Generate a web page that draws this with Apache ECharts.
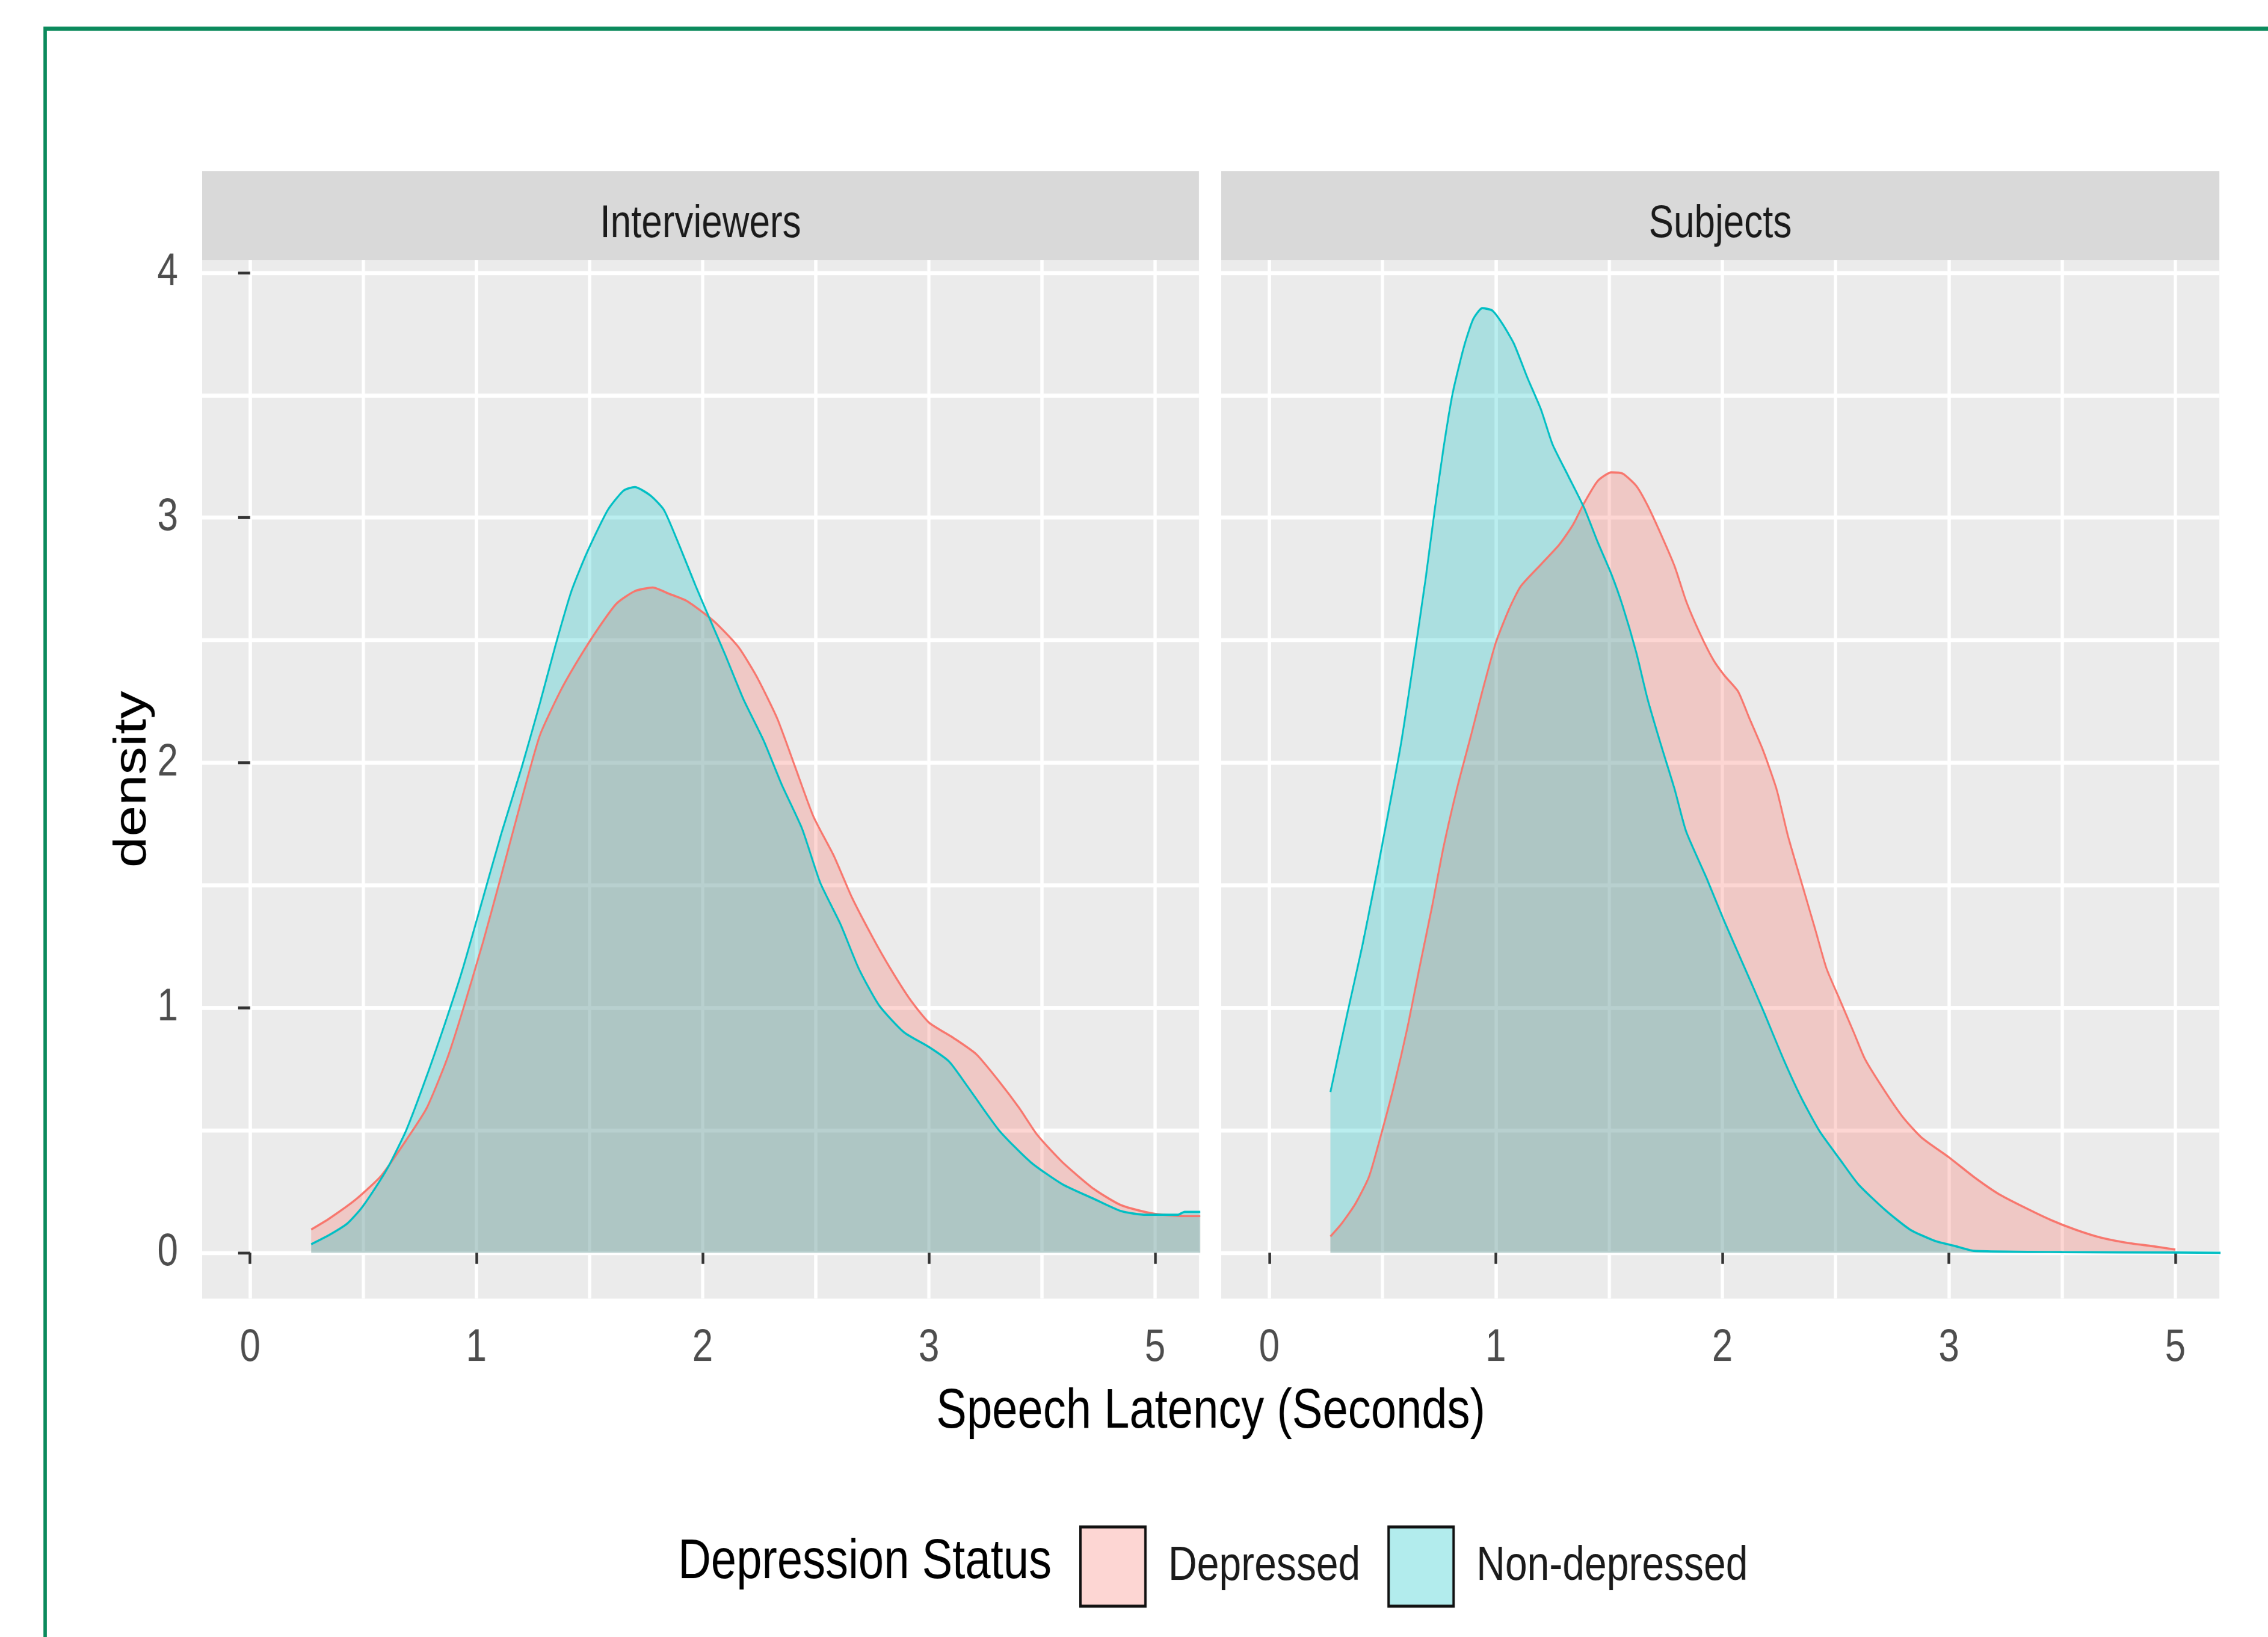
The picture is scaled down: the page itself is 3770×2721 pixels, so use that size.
<!DOCTYPE html>
<html>
<head>
<meta charset="utf-8">
<script src="https://cdn.jsdelivr.net/npm/echarts@6/dist/echarts.min.js"></script>
<style>
html,body{margin:0;padding:0;background:#fff;width:3770px;height:2721px;}
/* the reference figure is stretched vertically (tall, narrow glyphs, non-square keys);
   the chart is drawn at 3770x2230 and stretched to 3770x2721 */
#chart{width:3770px;height:2230px;transform:scaleY(1.22018);transform-origin:0 0;}
</style>
</head>
<body>
<div id="chart"></div>
<script>
// ---------------- DATA ----------------
const panels = ['Interviewers', 'Subjects'];
const groups = ['Depressed', 'Non-depressed'];
// x tick positions on the (transformed) latency axis and their labels
const xTickPositions = [0, 1, 2, 3, 4];
const xTickLabels = ['0', '1', '2', '3', '5'];
const xMinorPositions = [0.5, 1.5, 2.5, 3.5];
const yTickValues = [0, 1, 2, 3, 4];
const yTickLabels = ['0', '1', '2', '3', '4'];
const yMinorValues = [0.5, 1.5, 2.5, 3.5];

// density curves: [latency position, density]
const interviewersDepressed = [
  [0.27,0.095],[0.35,0.14],[0.47,0.22],[0.58,0.315],[0.69,0.46],[0.78,0.59],[0.87,0.79],[0.94,0.99],
  [1.03,1.27],[1.11,1.54],[1.20,1.85],[1.28,2.11],[1.37,2.29],[1.45,2.42],[1.54,2.55],[1.62,2.65],
  [1.70,2.70],[1.78,2.715],[1.85,2.69],[1.93,2.66],[2.02,2.60],[2.07,2.56],[2.16,2.47],[2.24,2.35],
  [2.33,2.18],[2.41,1.98],[2.49,1.78],[2.58,1.62],[2.66,1.45],[2.75,1.29],[2.83,1.16],[2.92,1.03],
  [3.00,0.94],[3.11,0.876],[3.21,0.81],[3.31,0.70],[3.40,0.59],[3.48,0.48],[3.59,0.37],[3.73,0.26],
  [3.85,0.194],[3.99,0.16],[4.13,0.15],[4.22,0.15]
];
const interviewersNonDepressed = [
  [0.27,0.035],[0.35,0.073],[0.43,0.12],[0.49,0.18],[0.55,0.26],[0.61,0.35],[0.69,0.50],[0.78,0.72],
  [0.87,0.96],[0.94,1.16],[1.03,1.45],[1.11,1.71],[1.20,1.98],[1.28,2.24],[1.35,2.48],[1.42,2.70],
  [1.49,2.86],[1.58,3.03],[1.65,3.11],[1.70,3.125],[1.77,3.09],[1.83,3.03],[1.90,2.88],[1.97,2.72],
  [2.03,2.59],[2.10,2.44],[2.18,2.26],[2.27,2.09],[2.35,1.91],[2.44,1.73],[2.52,1.51],[2.61,1.34],
  [2.69,1.16],[2.78,1.01],[2.89,0.90],[3.00,0.84],[3.09,0.78],[3.17,0.68],[3.31,0.50],[3.45,0.37],
  [3.59,0.28],[3.73,0.22],[3.85,0.17],[3.96,0.155],[4.10,0.155],[4.13,0.167],[4.22,0.167]
];
const subjectsDepressed = [
  [0.27,0.067],[0.32,0.12],[0.38,0.20],[0.44,0.31],[0.49,0.47],[0.55,0.68],[0.61,0.92],[0.66,1.15],
  [0.72,1.42],[0.77,1.66],[0.83,1.90],[0.89,2.11],[0.94,2.29],[1.00,2.49],[1.06,2.63],[1.11,2.72],
  [1.20,2.81],[1.28,2.89],[1.34,2.97],[1.39,3.06],[1.45,3.15],[1.51,3.185],[1.56,3.18],[1.62,3.13],
  [1.67,3.05],[1.73,2.93],[1.79,2.80],[1.84,2.66],[1.90,2.53],[1.96,2.42],[2.01,2.355],[2.07,2.29],
  [2.12,2.18],[2.18,2.05],[2.24,1.89],[2.29,1.70],[2.35,1.51],[2.41,1.32],[2.46,1.16],[2.52,1.03],
  [2.58,0.90],[2.63,0.79],[2.72,0.656],[2.80,0.55],[2.88,0.47],[3.00,0.39],[3.11,0.31],[3.22,0.24],
  [3.33,0.187],[3.45,0.134],[3.56,0.094],[3.67,0.062],[3.79,0.04],[3.90,0.027],[4.00,0.013]
];
const subjectsNonDepressed = [
  [0.27,0.656],[0.31,0.83],[0.35,1.00],[0.41,1.25],[0.46,1.48],[0.52,1.77],[0.58,2.07],[0.63,2.37],
  [0.69,2.75],[0.73,3.03],[0.77,3.29],[0.81,3.51],[0.86,3.70],[0.90,3.81],[0.94,3.855],[0.985,3.845],
  [1.03,3.79],[1.08,3.71],[1.14,3.57],[1.20,3.44],[1.25,3.30],[1.32,3.17],[1.39,3.04],[1.45,2.90],
  [1.51,2.77],[1.56,2.64],[1.62,2.45],[1.67,2.26],[1.73,2.07],[1.79,1.89],[1.84,1.72],[1.93,1.53],
  [2.01,1.35],[2.10,1.16],[2.18,0.99],[2.27,0.79],[2.35,0.63],[2.43,0.495],[2.52,0.38],[2.60,0.28],
  [2.72,0.174],[2.83,0.094],[2.94,0.048],[3.03,0.027],[3.11,0.008],[3.50,0.003],[4.00,0.001],[4.22,0.0]
];

// ---------------- STYLE / LAYOUT (pre-stretch coordinates) ----------------
const FONT = "'Liberation Sans', Arial, sans-serif";
const RED = '#F8766D', CYAN = '#00BFC4';
const X_MIN = -0.212, X_MAX = 4.194, Y_MIN = -0.187, Y_MAX = 4.052;
const GRID_TOP = 354, GRID_H = 1415, STRIP_TOP = 233, STRIP_H = 121;
const grids = [{left: 336, width: 1657}, {left: 2030, width: 1659}];
const GRID_LINE = 5.5;

function mainX(g) {
  return {
    type: 'value', gridIndex: g, min: X_MIN, max: X_MAX,
    axisLine: {show: false},
    axisTick: {show: true, customValues: xTickPositions, length: 15, lineStyle: {color: '#333333', width: 4.5}},
    axisLabel: {show: true, customValues: xTickPositions, margin: 37, fontSize: 62, fontFamily: FONT, color: '#4D4D4D',
      formatter: v => xTickLabels[xTickPositions.indexOf(Math.round(v))]},
    splitLine: {show: true, lineStyle: {color: '#FFFFFF', width: GRID_LINE}}
  };
}
function minorX(g) {
  return {
    type: 'value', gridIndex: g, min: X_MIN, max: X_MAX, position: 'bottom',
    axisLine: {show: false},
    axisTick: {show: false, customValues: xMinorPositions},
    axisLabel: {show: false, customValues: xMinorPositions},
    splitLine: {show: true, lineStyle: {color: '#FFFFFF', width: GRID_LINE}}
  };
}
function mainY(g, withLabels) {
  return {
    type: 'value', gridIndex: g, min: Y_MIN, max: Y_MAX,
    axisLine: {show: false},
    axisTick: {show: withLabels, customValues: yTickValues, length: 20, lineStyle: {color: '#333333', width: 4}},
    axisLabel: {show: withLabels, customValues: yTickValues, margin: 40, fontSize: 62, fontFamily: FONT, color: '#4D4D4D',
      formatter: v => yTickLabels[yTickValues.indexOf(Math.round(v))]},
    splitLine: {show: true, lineStyle: {color: '#FFFFFF', width: GRID_LINE}}
  };
}
function minorY(g) {
  return {
    type: 'value', gridIndex: g, min: Y_MIN, max: Y_MAX, position: 'left',
    axisLine: {show: false},
    axisTick: {show: false, customValues: yMinorValues},
    axisLabel: {show: false, customValues: yMinorValues},
    splitLine: {show: true, lineStyle: {color: '#FFFFFF', width: GRID_LINE}}
  };
}
function densitySeries(name, color, data, axisIdx, opacity) {
  return {
    type: 'line', name: name, data: data,
    xAxisIndex: axisIdx, yAxisIndex: axisIdx,
    showSymbol: false, symbol: 'none', smooth: 0.2, silent: true, clip: true,
    lineStyle: {color: color, width: 3},
    itemStyle: {color: color},
    areaStyle: {color: color, opacity: opacity}
  };
}

const option = {
  animation: false,
  backgroundColor: '#FFFFFF',
  grid: grids.map(g => ({left: g.left, top: GRID_TOP, width: g.width, height: GRID_H,
    show: true, backgroundColor: '#EBEBEB', borderWidth: 0, containLabel: false})),
  xAxis: [mainX(0), minorX(0), mainX(1), minorX(1)],
  yAxis: [mainY(0, true), minorY(0), mainY(1, false), minorY(1)],
  series: [
    densitySeries(groups[0], RED, interviewersDepressed, 0, 0.3),
    densitySeries(groups[1], CYAN, interviewersNonDepressed, 0, 0.27),
    densitySeries(groups[0], RED, subjectsDepressed, 2, 0.3),
    densitySeries(groups[1], CYAN, subjectsNonDepressed, 2, 0.27)
  ],
  legend: {
    left: 1789, top: 2073, orient: 'horizontal',
    itemWidth: 108, itemHeight: 108, itemGap: 45,
    icon: 'rect', selectedMode: false,
    data: [
      {name: groups[0], itemStyle: {color: 'rgba(248,118,109,0.3)', borderColor: '#111111', borderWidth: 4}},
      {name: groups[1], itemStyle: {color: 'rgba(0,191,196,0.3)', borderColor: '#111111', borderWidth: 4}}
    ],
    textStyle: {fontSize: 66, fontFamily: FONT, color: '#1A1A1A', padding: [0, 0, 0, 33]}
  },
  graphic: [
    {type: 'rect', silent: true, shape: {x: 75, y: 39, width: 4000, height: 4000},
      style: {fill: 'none', stroke: '#0B8A5C', lineWidth: 5.5}},
    ...grids.map((g, i) => ({type: 'rect', silent: true,
      shape: {x: g.left, y: STRIP_TOP, width: g.width, height: STRIP_H}, style: {fill: '#D9D9D9'}})),
    ...grids.map((g, i) => ({type: 'text', silent: true, x: g.left + g.width / 2, y: 306,
      style: {text: panels[i], fontSize: 62, fontFamily: FONT, fill: '#1A1A1A', align: 'center', verticalAlign: 'middle'}})),
    {type: 'text', silent: true, x: 221, y: GRID_TOP + GRID_H / 2, rotation: Math.PI / 2,
      style: {text: 'density', fontSize: 76, fontFamily: FONT, fill: '#000000', align: 'center', verticalAlign: 'middle'}},
    {type: 'text', silent: true, x: (grids[0].left + grids[1].left + grids[1].width) / 2, y: 1924,
      style: {text: 'Speech Latency (Seconds)', fontSize: 76, fontFamily: FONT, fill: '#000000', align: 'center', verticalAlign: 'middle'}},
    {type: 'text', silent: true, x: 1127, y: 2129,
      style: {text: 'Depression Status', fontSize: 76, fontFamily: FONT, fill: '#000000', align: 'left', verticalAlign: 'middle'}}
  ]
};

const chart = echarts.init(document.getElementById('chart'), null,
  {renderer: 'canvas', width: 3770, height: 2230, devicePixelRatio: 1.22018});
chart.setOption(option);
</script>
</body>
</html>
